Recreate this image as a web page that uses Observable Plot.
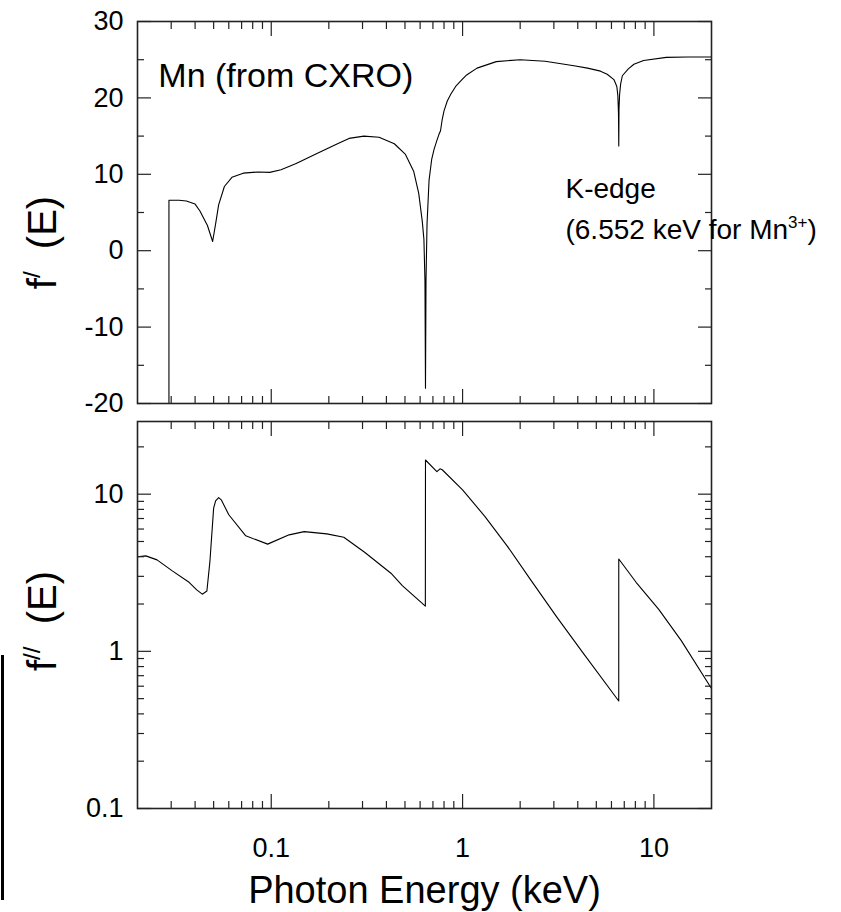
<!DOCTYPE html>
<html><head><meta charset="utf-8">
<script src="https://cdn.jsdelivr.net/npm/d3@7"></script>
<script src="https://cdn.jsdelivr.net/npm/@observablehq/plot@0.6"></script>
<style>
body{margin:0;background:#fff;}
#wrap{position:relative;width:841px;height:912px;overflow:hidden;font-family:"Liberation Sans",Arial,sans-serif;}
#wrap svg{display:block;position:absolute;left:0;}
#edgebar{position:absolute;left:1px;top:655px;width:3px;height:245px;background:#000;}
</style></head><body><div id="wrap"><div id="edgebar"></div></div>
<script>
// ---- data: f'(E) (top panel) ----
const energyTop = [0.0292,0.0292,0.033,0.036,0.040,0.0424,0.0464,0.0494,0.0512,0.0531,0.0569,0.0623,0.0714,0.085,0.0982,0.1125,0.135,0.169,0.222,0.255,0.305,0.366,0.440,0.503,0.555,0.590,0.616,0.628,0.636,0.640,0.644,0.652,0.668,0.690,0.710,0.738,0.752,0.767,0.783,0.800,0.832,0.869,0.920,0.976,1.05,1.19,1.50,2.0,2.7,3.82,4.5,5.26,5.70,6.18,6.40,6.48,6.53,6.552,6.57,6.62,6.70,6.84,7.35,7.86,8.83,11.6,15,20];
const fPrime = [-40,6.6,6.6,6.5,6.1,5.2,3.3,1.2,3.5,6.0,8.4,9.6,10.15,10.3,10.25,10.6,11.4,12.6,14.0,14.7,15.0,14.85,14.0,12.6,10.4,7.5,3.8,1.5,-4,-18,-4,3.5,9.2,12.0,13.3,14.6,15.2,15.7,17.2,18.3,19.6,20.5,21.5,22.2,23.0,23.9,24.75,25.0,24.8,24.2,23.9,23.5,23.1,22.4,21.5,20.3,18.0,13.7,18.5,20.5,21.8,22.9,23.8,24.4,24.9,25.3,25.35,25.35];

// ---- data: f''(E) (bottom panel) ----
const energyBottom = [0.02,0.0221,0.0253,0.0304,0.0372,0.0408,0.0436,0.0461,0.0478,0.050,0.0512,0.0531,0.0548,0.060,0.0736,0.0958,0.124,0.1486,0.1953,0.2395,0.3076,0.4224,0.4842,0.639,0.640,0.734,0.762,0.783,1.0,1.31,1.72,2.27,3.11,4.28,6.55,6.552,8.07,10.6,13.9,20];
const fDoublePrime = [4.0,4.05,3.82,3.25,2.75,2.46,2.31,2.42,3.72,8.15,9.07,9.5,9.2,7.4,5.43,4.81,5.51,5.78,5.59,5.32,4.27,3.14,2.62,1.94,16.5,13.9,14.5,14.3,10.65,7.2,4.64,2.85,1.65,0.97,0.483,3.87,2.75,1.85,1.17,0.58];

// ---- ticks ----
const xMajor = [0.1, 1, 10];
const xMajorLabels = ["0.1", "1", "10"];
const xMinor = [0.03,0.04,0.05,0.06,0.07,0.08,0.09,0.2,0.3,0.4,0.5,0.6,0.7,0.8,0.9,2,3,4,5,6,7,8,9];
const yTopMajor = [-20,-10,0,10,20,30];
const yTopMinor = [-15,-5,5,15,25];
const yBottomMajor = [0.1, 1, 10];
const yBottomLabels = ["0.1", "1", "10"];
const yBottomMinor = [0.2,0.3,0.4,0.5,0.6,0.7,0.8,0.9,2,3,4,5,6,7,8,9,20];

// ---- text ----
const topYTitle = "f/ (E)";
const bottomYTitle = "f// (E)";
const xTitle = "Photon Energy (keV)";
const elementLabel = "Mn (from CXRO)";
const edgeLabels = ["K-edge", "(6.552 keV for Mn3+)"];
const edgeLabelE = [3.45, 3.45];
const edgeLabelF = [6.95, 1.55];

const topData = energyTop.map((e, i) => ({energy: e, f: fPrime[i]}));
const bottomData = energyBottom.map((e, i) => ({energy: e, f: fDoublePrime[i]}));

const FONT = "Liberation Sans, Arial, Helvetica, sans-serif";
const AX = "#222";
const MAJ = 14, MIN = 7;

function boxTicks(xTicksMaj, xTicksMin, yTicksMaj, yTicksMin) {
  const common = {stroke: AX, strokeWidth: 1.2, label: null, tickFormat: () => ""};
  return [
    Plot.axisX({...common, anchor: "bottom", ticks: xTicksMaj, tickSize: MAJ, dy: -MAJ}),
    Plot.axisX({...common, anchor: "bottom", ticks: xTicksMin, tickSize: MIN, dy: -MIN}),
    Plot.axisX({...common, anchor: "top", ticks: xTicksMaj, tickSize: MAJ, dy: MAJ}),
    Plot.axisX({...common, anchor: "top", ticks: xTicksMin, tickSize: MIN, dy: MIN}),
    Plot.axisY({...common, anchor: "left", ticks: yTicksMaj, tickSize: MAJ, dx: MAJ}),
    Plot.axisY({...common, anchor: "left", ticks: yTicksMin, tickSize: MIN, dx: MIN}),
    Plot.axisY({...common, anchor: "right", ticks: yTicksMaj, tickSize: MAJ, dx: -MAJ}),
    Plot.axisY({...common, anchor: "right", ticks: yTicksMin, tickSize: MIN, dx: -MIN})
  ];
}

const topPlot = Plot.plot({
  width: 841, height: 410,
  marginTop: 21, marginBottom: 7, marginLeft: 137, marginRight: 130,
  style: {fontFamily: FONT, background: "transparent", overflow: "visible", color: "#000"},
  x: {type: "log", domain: [0.02, 20]},
  y: {domain: [-20, 30]},
  marks: [
    Plot.line(topData, {x: "energy", y: "f", stroke: "#000", strokeWidth: 1.1, clip: true}),
    Plot.frame({stroke: AX, strokeWidth: 1.6}),
    ...boxTicks(xMajor, xMinor, yTopMajor, yTopMinor),
    Plot.axisY({anchor: "left", ticks: yTopMajor, tickSize: 0, tickPadding: 14, label: null,
      tickFormat: d => String(d), fontSize: 27, fill: "#000"}),
    Plot.text([topYTitle], {frameAnchor: "left", dx: -94, dy: 30, rotate: -90, text: d => d,
      fontSize: 40, textAnchor: "middle", lineAnchor: "middle", fill: "#000"}),
    Plot.text([elementLabel], {x: () => 0.0257, y: () => 21.4, text: d => d,
      fontSize: 34, textAnchor: "start", lineAnchor: "bottom", fill: "#000"}),
    Plot.text(edgeLabels, {x: (d, i) => edgeLabelE[i], y: (d, i) => edgeLabelF[i], text: d => d,
      fontSize: 28, textAnchor: "start", lineAnchor: "bottom", fill: "#000"})
  ]
});
topPlot.style.top = "0px";

const bottomPlot = Plot.plot({
  width: 841, height: 502,
  marginTop: 11, marginBottom: 104, marginLeft: 137, marginRight: 130,
  style: {fontFamily: FONT, background: "transparent", overflow: "visible", color: "#000"},
  x: {type: "log", domain: [0.02, 20]},
  y: {type: "log", domain: [0.1, 29]},
  marks: [
    Plot.line(bottomData, {x: "energy", y: "f", stroke: "#000", strokeWidth: 1.1, clip: true}),
    Plot.frame({stroke: AX, strokeWidth: 1.6}),
    ...boxTicks(xMajor, xMinor, yBottomMajor, yBottomMinor),
    Plot.axisY({anchor: "left", ticks: yBottomMajor, tickSize: 0, tickPadding: 14, label: null,
      tickFormat: d => yBottomLabels[yBottomMajor.indexOf(d)], fontSize: 27, fill: "#000"}),
    Plot.axisX({anchor: "bottom", ticks: xMajor, tickSize: 0, tickPadding: 29, label: null,
      tickFormat: d => xMajorLabels[xMajor.indexOf(d)], fontSize: 27, fill: "#000"}),
    Plot.text([bottomYTitle], {frameAnchor: "left", dx: -94, dy: 6, rotate: -90, text: d => d,
      fontSize: 40, textAnchor: "middle", lineAnchor: "middle", fill: "#000"}),
    Plot.text([xTitle], {frameAnchor: "bottom", dy: 94, text: d => d,
      fontSize: 38, textAnchor: "middle", lineAnchor: "bottom", fill: "#000"})
  ]
});
bottomPlot.style.top = "410px";

const wrap = document.getElementById("wrap");
wrap.appendChild(topPlot);
wrap.appendChild(bottomPlot);

// superscripts as real tspans
function superscript(svg, match, before, sup, after, supSize, shift) {
  d3.select(svg).selectAll("text").filter(function() { return this.textContent === match; })
    .each(function() {
      const t = d3.select(this);
      t.text(null);
      t.append("tspan").text(before);
      t.append("tspan").attr("font-size", supSize).attr("dy", -shift).text(sup);
      t.append("tspan").attr("dy", shift).text(after);
    });
}
superscript(topPlot, topYTitle, "f", "/", "\u00a0\u00a0(E)", 24, 16);
superscript(bottomPlot, bottomYTitle, "f", "//", "\u00a0\u00a0(E)", 24, 16);
superscript(topPlot, edgeLabels[1], "(6.552 keV for Mn", "3+", ")", 17, 11);
</script>
</body></html>
